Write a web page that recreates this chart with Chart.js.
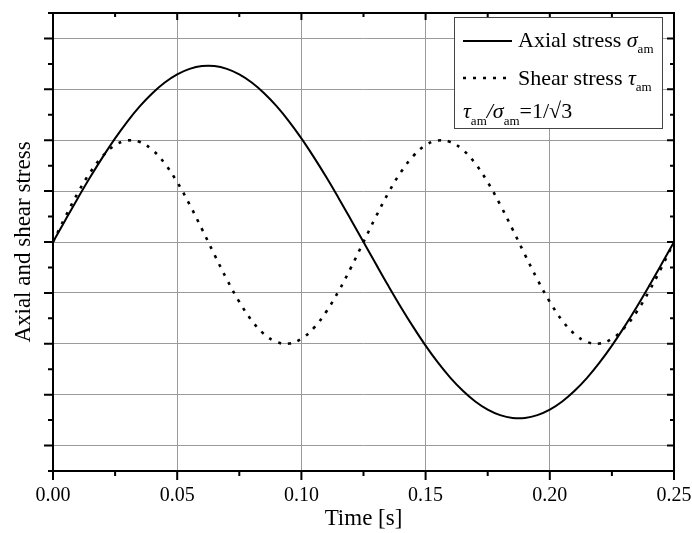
<!DOCTYPE html>
<html lang="en">

<head>
    <meta charset="UTF-8">
    <title>Axial and shear stress</title>
    <style>
        body {
            margin: 0;
            background-color: #fff;
        }

        canvas {
            display: block;
        }
    </style>
    <script src="https://cdn.jsdelivr.net/npm/chart.js"></script>
</head>

<body>

    <canvas id="stress-chart" width="692" height="533"></canvas>

    <script>
        const time = [0, 0.005, 0.01, 0.015, 0.02, 0.025, 0.03, 0.035, 0.04, 0.045,
            0.05, 0.055, 0.06, 0.065, 0.07, 0.075, 0.08, 0.085, 0.09, 0.095,
            0.1, 0.105, 0.11, 0.115, 0.12, 0.125, 0.13, 0.135, 0.14, 0.145,
            0.15, 0.155, 0.16, 0.165, 0.17, 0.175, 0.18, 0.185, 0.19, 0.195,
            0.2, 0.205, 0.21, 0.215, 0.22, 0.225, 0.23, 0.235, 0.24, 0.245, 0.25];

        const axialStress = [0, 0.217, 0.431, 0.638, 0.834, 1.018, 1.186, 1.335, 1.462, 1.567,
            1.647, 1.701, 1.729, 1.729, 1.701, 1.647, 1.567, 1.462, 1.335, 1.186,
            1.018, 0.834, 0.638, 0.431, 0.217, 0, -0.217, -0.431, -0.638, -0.834,
            -1.018, -1.186, -1.335, -1.462, -1.567, -1.647, -1.701, -1.729, -1.729, -1.701,
            -1.647, -1.567, -1.462, -1.335, -1.186, -1.018, -0.834, -0.638, -0.431, -0.217, 0];

        const shearStress = [0, 0.249, 0.482, 0.685, 0.844, 0.951, 0.998, 0.982, 0.905, 0.771,
            0.588, 0.368, 0.125, -0.125, -0.368, -0.588, -0.771, -0.905, -0.982, -0.998,
            -0.951, -0.844, -0.685, -0.482, -0.249, 0, 0.249, 0.482, 0.685, 0.844,
            0.951, 0.998, 0.982, 0.905, 0.771, 0.588, 0.368, 0.125, -0.125, -0.368,
            -0.588, -0.771, -0.905, -0.982, -0.998, -0.951, -0.844, -0.685, -0.482, -0.249, 0];

        // axis ticks (y axis has no labels in the original)
        const xMajor = [0, 0.05, 0.1, 0.15, 0.2, 0.25];
        const xMinor = [0.025, 0.075, 0.125, 0.175, 0.225];
        const yMajor = [-2, -1.5, -1, -0.5, 0, 0.5, 1, 1.5, 2];
        const yMinor = [-2.25, -1.75, -1.25, -0.75, -0.25, 0.25, 0.75, 1.25, 1.75, 2.25];

        const serif = 'Liberation Serif';

        // draws text pieces one after another (for italic symbols and subscripts)
        function drawRuns(ctx, x, y, runs) {
            runs.forEach(r => {
                ctx.font = r.font;
                ctx.fillText(r.text, x, y + (r.dy || 0));
                x += ctx.measureText(r.text).width;
            });
        }

        const framePlugin = {
            id: 'frame',
            afterDraw(chart) {
                const { ctx, chartArea: a, scales: { x, y } } = chart;
                ctx.save();
                ctx.strokeStyle = '#000';
                ctx.lineWidth = 2;
                ctx.strokeRect(a.left, a.top, a.right - a.left, a.bottom - a.top);

                ctx.beginPath();
                xMajor.forEach(v => {
                    const px = x.getPixelForValue(v);
                    ctx.moveTo(px, a.bottom); ctx.lineTo(px, a.bottom + 9);
                    ctx.moveTo(px, a.top); ctx.lineTo(px, a.top + 7);
                });
                xMinor.forEach(v => {
                    const px = x.getPixelForValue(v);
                    ctx.moveTo(px, a.bottom); ctx.lineTo(px, a.bottom + 5);
                    ctx.moveTo(px, a.top); ctx.lineTo(px, a.top + 4);
                });
                yMajor.forEach(v => {
                    const py = y.getPixelForValue(v);
                    ctx.moveTo(a.left - 9, py); ctx.lineTo(a.left, py);
                    ctx.moveTo(a.right - 7, py); ctx.lineTo(a.right, py);
                });
                yMinor.forEach(v => {
                    const py = y.getPixelForValue(v);
                    ctx.moveTo(a.left - 5, py); ctx.lineTo(a.left, py);
                    ctx.moveTo(a.right - 4, py); ctx.lineTo(a.right, py);
                });
                ctx.stroke();

                // legend box
                ctx.fillStyle = '#fff';
                ctx.fillRect(454, 17, 209, 112);
                ctx.strokeStyle = '#444';
                ctx.lineWidth = 1;
                ctx.strokeRect(454.5, 17.5, 208, 111);

                ctx.strokeStyle = '#000';
                ctx.lineWidth = 2;
                ctx.beginPath();
                ctx.moveTo(463, 41); ctx.lineTo(512, 41);
                ctx.stroke();
                ctx.lineWidth = 2.6;
                ctx.setLineDash([3, 7]);
                ctx.beginPath();
                ctx.moveTo(463, 78); ctx.lineTo(510, 78);
                ctx.stroke();
                ctx.setLineDash([]);

                ctx.fillStyle = '#000';
                ctx.textBaseline = 'alphabetic';
                const reg = '22px ' + serif;
                const ita = 'italic 22px ' + serif;
                const sub = '13px ' + serif;
                drawRuns(ctx, 518, 47, [
                    { text: 'Axial stress ', font: reg },
                    { text: 'σ', font: ita },
                    { text: 'am', font: sub, dy: 6 }
                ]);
                drawRuns(ctx, 518, 85, [
                    { text: 'Shear stress ', font: reg },
                    { text: 'τ', font: ita },
                    { text: 'am', font: sub, dy: 6 }
                ]);
                drawRuns(ctx, 463, 118, [
                    { text: 'τ', font: ita },
                    { text: 'am', font: sub, dy: 7 },
                    { text: '/', font: ita },
                    { text: 'σ', font: ita },
                    { text: 'am', font: sub, dy: 7 },
                    { text: '=1/√3', font: reg }
                ]);
                ctx.restore();
            }
        };

        const ctx = document.getElementById('stress-chart').getContext('2d');
        new Chart(ctx, {
            type: 'line',
            data: {
                datasets: [{
                    label: 'Axial stress',
                    data: time.map((t, i) => ({ x: t, y: axialStress[i] })),
                    borderColor: '#000',
                    borderWidth: 2,
                    pointRadius: 0,
                    tension: 0.4,
                    fill: false
                }, {
                    label: 'Shear stress',
                    data: time.map((t, i) => ({ x: t, y: shearStress[i] })),
                    borderColor: '#000',
                    borderWidth: 2.6,
                    borderDash: [3, 7],
                    pointRadius: 0,
                    tension: 0.4,
                    fill: false
                }]
            },
            options: {
                responsive: false,
                animation: false,
                layout: {
                    padding: { left: 0, right: 18, top: 13, bottom: 0 }
                },
                scales: {
                    x: {
                        type: 'linear',
                        min: 0,
                        max: 0.25,
                        afterBuildTicks: s => { s.ticks = xMajor.map(v => ({ value: v })); },
                        afterFit: s => {
                            s.height = 62;
                            s.paddingLeft = 0;
                            s.paddingRight = 0;
                        },
                        ticks: {
                            autoSkip: false,
                            maxRotation: 0,
                            padding: 13,
                            color: '#000',
                            font: { family: serif, size: 20 },
                            callback: v => v.toFixed(2)
                        },
                        grid: { color: '#9b9b9b', lineWidth: 1, drawTicks: false },
                        border: { display: false },
                        title: {
                            display: true,
                            text: 'Time [s]',
                            color: '#000',
                            font: { family: serif, size: 23 },
                            padding: { top: 0, bottom: 0 }
                        }
                    },
                    y: {
                        min: -2.25,
                        max: 2.25,
                        afterBuildTicks: s => { s.ticks = yMajor.map(v => ({ value: v })); },
                        afterFit: s => { s.width = 53; },
                        ticks: { display: false },
                        grid: { color: '#9b9b9b', lineWidth: 1, drawTicks: false },
                        border: { display: false },
                        title: {
                            display: true,
                            text: 'Axial and shear stress',
                            color: '#000',
                            font: { family: serif, size: 23 },
                            padding: { top: 10, bottom: 0 }
                        }
                    }
                },
                plugins: {
                    legend: { display: false },
                    tooltip: { enabled: false }
                }
            },
            plugins: [framePlugin]
        });
    </script>

</body>

</html>
